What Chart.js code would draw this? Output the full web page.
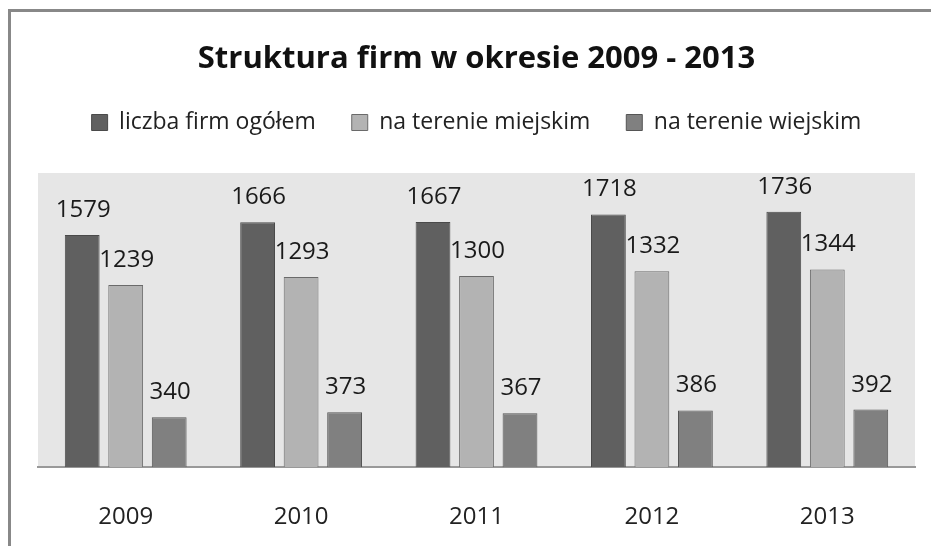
<!DOCTYPE html>
<html>
<head>
<meta charset="utf-8">
<script src="https://cdn.jsdelivr.net/npm/chart.js@4"></script>
<style>
  body { margin: 0; background: #fff; overflow: hidden; }
  #wrap { position: relative; width: 931px; height: 546px; overflow: hidden; }
  #frame { position: absolute; left: 8px; top: 9px; width: 940px; height: 560px;
           border-top: 3px solid #888; border-left: 3px solid #888; pointer-events: none; }
</style>
</head>
<body>
<div id="wrap">
  <canvas id="chart" width="931" height="546"></canvas>
  <div id="frame"></div>
</div>
<script>
const years = ['2009', '2010', '2011', '2012', '2013'];
const ogolem = [1579, 1666, 1667, 1718, 1736];
const miejskim = [1239, 1293, 1300, 1332, 1344];
const wiejskim = [340, 373, 367, 386, 392];

const FONT = "'Open Sans', sans-serif";

// gray background behind the bars
const plotBg = {
    id: 'plotBg',
    beforeDraw(chart) {
        const a = chart.chartArea;
        const ctx = chart.ctx;
        ctx.save();
        ctx.fillStyle = '#e6e6e6';
        ctx.fillRect(a.left, a.top, a.right - a.left, a.bottom - a.top);
        ctx.restore();
    }
};

// value labels above each bar
const barLabels = {
    id: 'barLabels',
    afterDatasetsDraw(chart) {
        const ctx = chart.ctx;
        ctx.save();
        ctx.font = '24px ' + FONT;
        ctx.fillStyle = '#1a1a1a';
        ctx.textAlign = 'center';
        ctx.textBaseline = 'alphabetic';
        chart.data.datasets.forEach((ds, i) => {
            chart.getDatasetMeta(i).data.forEach((bar, j) => {
                ctx.fillText(ds.data[j], bar.x + 1, bar.y - 18);
            });
        });
        ctx.restore();
    }
};

new Chart(document.getElementById('chart'), {
    type: 'bar',
    data: {
        labels: years,
        datasets: [
            { label: 'liczba firm ogółem', data: ogolem, backgroundColor: '#606060', borderColor: '#4a4a4a', borderWidth: 1 },
            { label: 'na terenie miejskim', data: miejskim, backgroundColor: '#b3b3b3', borderColor: '#6a6a6a', borderWidth: 1 },
            { label: 'na terenie wiejskim', data: wiejskim, backgroundColor: '#808080', borderColor: '#555555', borderWidth: 1 }
        ]
    },
    options: {
        responsive: false,
        animation: false,
        layout: { padding: { left: 38, right: 16, top: 0, bottom: -14 } },
        datasets: { bar: { categoryPercentage: 0.744, barPercentage: 0.8 } },
        plugins: {
            title: {
                display: true,
                text: 'Struktura firm w okresie 2009 - 2013',
                color: '#111',
                font: { family: FONT, size: 31, weight: 'bold', lineHeight: 1 },
                padding: { top: 44, bottom: 0 }
            },
            legend: {
                position: 'top',
                labels: {
                    color: '#222',
                    font: { family: FONT, size: 23 },
                    boxWidth: 16,
                    boxHeight: 16,
                    padding: 36
                }
            },
            tooltip: { enabled: false }
        },
        scales: {
            x: {
                grid: { display: false },
                border: { color: '#999', width: 2 },
                ticks: { color: '#222', font: { family: FONT, size: 24 }, padding: 28 }
            },
            // empty top axis, only keeps a gap between legend and plot
            gap: {
                type: 'category',
                position: 'top',
                grid: { display: false, drawTicks: false },
                border: { display: false },
                ticks: { display: false },
                title: { display: true, text: ' ', font: { size: 20, lineHeight: 1 }, padding: { top: 9, bottom: 0 } }
            },
            y: { display: false, min: 0, max: 2000 }
        }
    },
    plugins: [plotBg, barLabels]
});
</script>
</body>
</html>
